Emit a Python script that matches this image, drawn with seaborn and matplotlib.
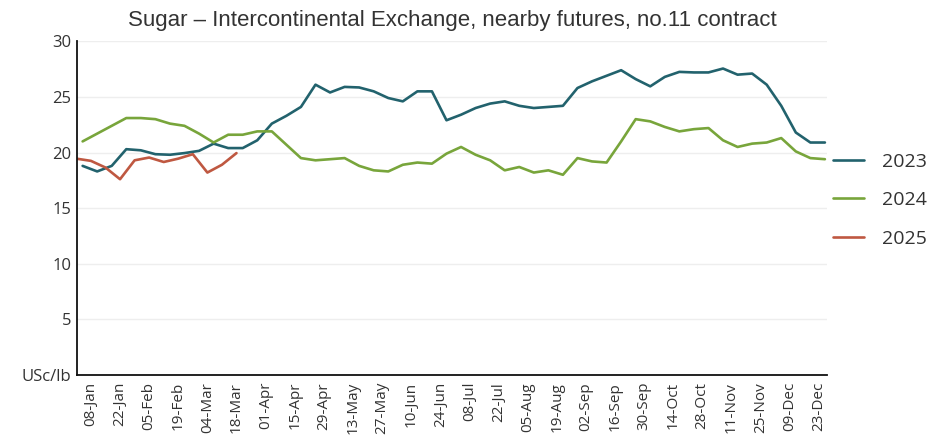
import pandas as pd
import seaborn as sns
import matplotlib.pyplot as plt

# weekly ICE no.11 nearby futures, USc/lb
years = ["2023", "2024", "2025"]
first_week = {"2023": "2023-01-04", "2024": "2024-01-04", "2025": "2025-01-01"}

sugar_2023 = [18.8, 18.3, 18.8, 20.3, 20.2, 19.85, 19.8, 19.95, 20.15, 20.8,
              20.4, 20.4, 21.1, 22.6, 23.3, 24.1, 26.1, 25.4, 25.9, 25.85,
              25.5, 24.9, 24.6, 25.5, 25.5, 22.9, 23.4, 24.0, 24.4, 24.6,
              24.2, 24.0, 24.1, 24.2, 25.8, 26.4, 26.9, 27.4, 26.6, 25.95,
              26.8, 27.25, 27.2, 27.2, 27.55, 27.0, 27.1, 26.1, 24.2, 21.8,
              20.9, 20.9]
sugar_2024 = [21.0, 21.7, 22.4, 23.1, 23.1, 23.0, 22.6, 22.4, 21.7, 20.9,
              21.6, 21.6, 21.9, 21.9, 20.7, 19.5, 19.3, 19.4, 19.5, 18.8,
              18.4, 18.3, 18.9, 19.1, 19.0, 19.9, 20.5, 19.8, 19.3, 18.4,
              18.7, 18.2, 18.4, 18.0, 19.5, 19.2, 19.1, 21.0, 23.0, 22.8,
              22.3, 21.9, 22.1, 22.2, 21.1, 20.5, 20.8, 20.9, 21.3, 20.1,
              19.5, 19.4]
sugar_2025 = [19.45, 19.25, 18.65, 17.6, 19.3, 19.55, 19.15, 19.45, 19.85, 18.2,
              18.9, 19.95]

tick_dates = pd.date_range("2024-01-08", periods=26, freq="14D")
tick_labels = list(tick_dates.strftime("%d-%b"))
y_ticks = [0, 5, 10, 15, 20, 25, 30]
y_labels = ["USc/lb", "5", "10", "15", "20", "25", "30"]

colors = {"2023": "#22626d", "2024": "#78a53b", "2025": "#bf5841"}

series = {"2023": sugar_2023, "2024": sugar_2024, "2025": sugar_2025}
frames = []
for yr in years:
    vals = series[yr]
    dates = pd.date_range(first_week[yr], periods=len(vals), freq="7D")
    frames.append(pd.DataFrame({"day": dates.dayofyear, "price": vals, "year": yr}))
df = pd.concat(frames, ignore_index=True)

sns.set_style("white")
plt.rcParams["font.family"] = ["Open Sans", "DejaVu Sans"]

fig = plt.figure(figsize=(9.46, 4.44), dpi=100)
ax = fig.add_axes([0.0814, 0.1554, 0.7928, 0.7516])

sns.lineplot(data=df, x="day", y="price", hue="year", palette=colors,
             linewidth=1.9, ax=ax)

ax.set_xlim(1.3, 362)
ax.set_ylim(0, 30)
ax.set_xticks(tick_dates.dayofyear)
ax.set_xticklabels(tick_labels, rotation=90, fontsize=11, color="#333333")
ax.set_yticks(y_ticks)
ax.set_yticklabels(y_labels, fontsize=12, color="#333333")
ax.tick_params(axis="x", direction="inout", length=6, width=1.2, pad=2)
ax.tick_params(axis="y", direction="in", length=4, width=1.2, pad=4)
ax.set_xlabel("")
ax.set_ylabel("")

ax.yaxis.grid(True, color="#eeeeee", linewidth=1)
ax.set_axisbelow(True)
for side in ["top", "right"]:
    ax.spines[side].set_visible(False)
for side in ["left", "bottom"]:
    ax.spines[side].set_color("#111111")
    ax.spines[side].set_linewidth(1.3)

ax.set_title("Sugar \u2013 Intercontinental Exchange, nearby futures, no.11 contract",
             fontsize=16, color="#333333", pad=11, family="Liberation Sans")

handles, labels = ax.get_legend_handles_labels()
ax.legend(handles, labels, loc="center left", bbox_to_anchor=(0.8805, 0.549),
          bbox_transform=fig.transFigure, frameon=False, fontsize=14,
          handlelength=1.6, handletextpad=0.9, labelspacing=1.05,
          borderpad=0, borderaxespad=0, labelcolor="#333333")

fig.savefig("out.png", dpi=100)
